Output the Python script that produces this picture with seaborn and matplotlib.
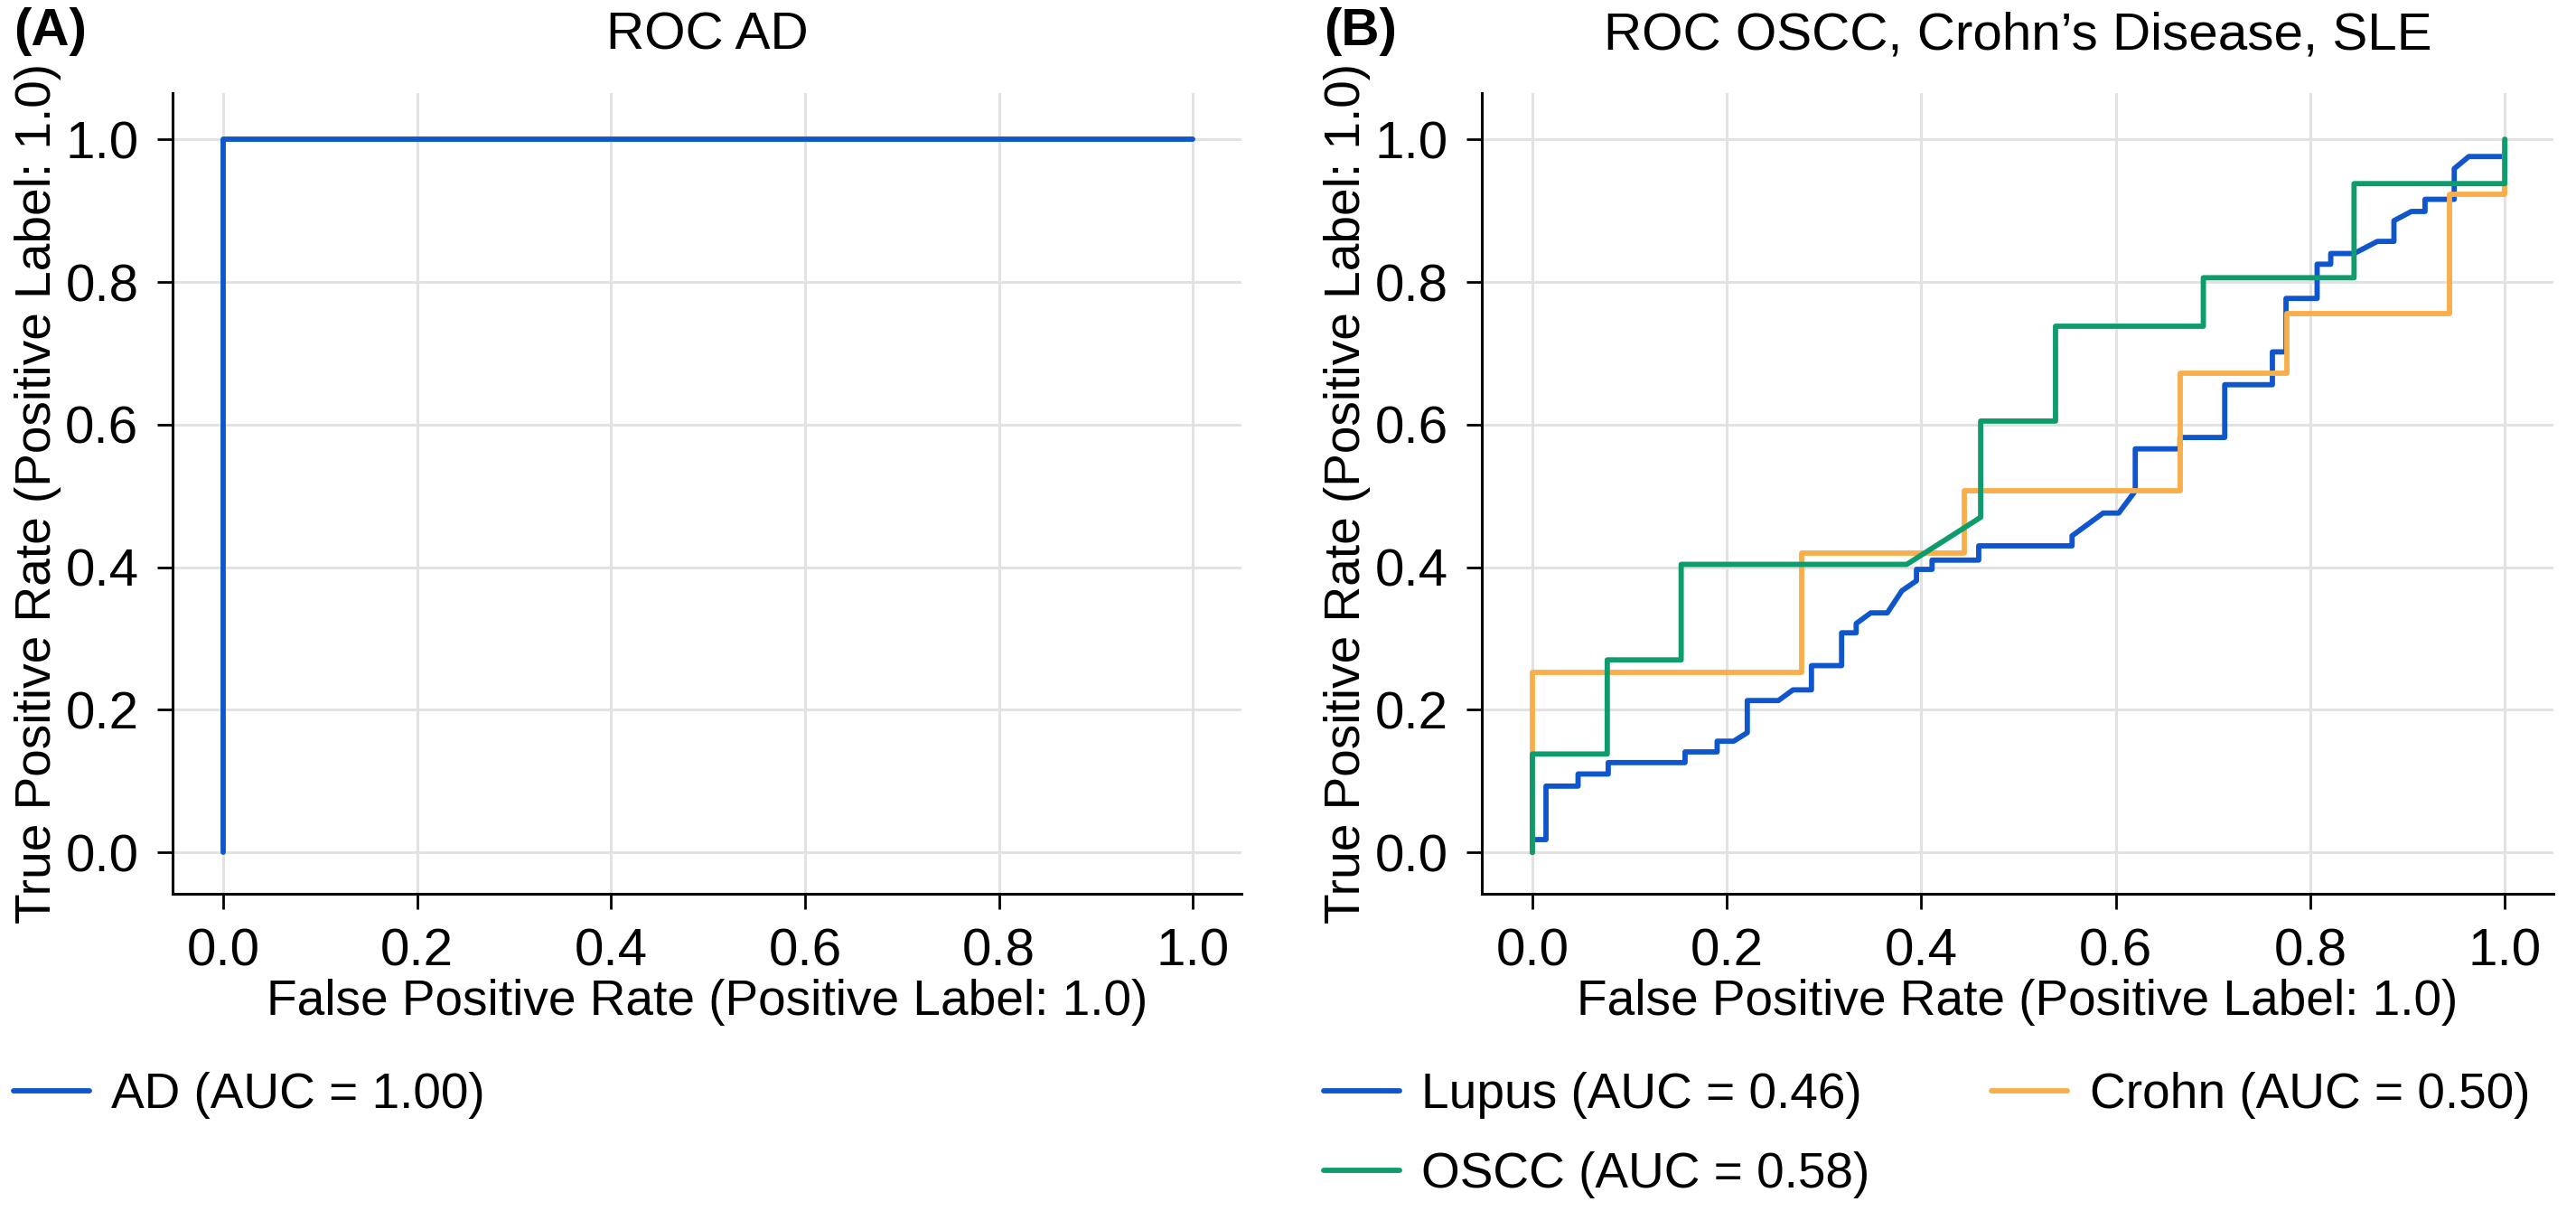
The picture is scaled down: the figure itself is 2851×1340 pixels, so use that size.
import pandas as pd
import numpy as np
import matplotlib
matplotlib.use('Agg')
import matplotlib.pyplot as plt
import seaborn as sns

# ROC curve vertices

ad_fpr = [0.0, 0.0, 1.0]
ad_tpr = [0.0, 1.0, 1.0]

lupus_fpr = [0.0, 0.0, 0.014, 0.014, 0.047, 0.047, 0.078, 0.078, 0.157, 0.157,
             0.19, 0.19, 0.207, 0.221, 0.221, 0.253, 0.268, 0.287, 0.287, 0.318,
             0.318, 0.333, 0.333, 0.348, 0.365, 0.380, 0.395, 0.395, 0.411, 0.411,
             0.459, 0.459, 0.555, 0.555, 0.587, 0.603, 0.620, 0.620, 0.666, 0.666,
             0.712, 0.712, 0.761, 0.761, 0.775, 0.775, 0.807, 0.807, 0.821, 0.821,
             0.845, 0.869, 0.886, 0.886, 0.904, 0.918, 0.918, 0.948, 0.948, 0.963,
             1.0, 1.0]
lupus_tpr = [0.0, 0.018, 0.018, 0.093, 0.093, 0.11, 0.11, 0.126, 0.126, 0.141,
             0.141, 0.156, 0.156, 0.168, 0.213, 0.213, 0.228, 0.228, 0.262, 0.262,
             0.308, 0.308, 0.321, 0.336, 0.336, 0.367, 0.381, 0.397, 0.397, 0.41,
             0.41, 0.43, 0.43, 0.444, 0.476, 0.476, 0.507, 0.566, 0.566, 0.582,
             0.582, 0.656, 0.656, 0.702, 0.702, 0.777, 0.777, 0.825, 0.825, 0.84,
             0.84, 0.857, 0.857, 0.886, 0.899, 0.899, 0.916, 0.916, 0.959, 0.976,
             0.976, 1.0]

crohn_fpr = [0.0, 0.0, 0.277, 0.277, 0.444, 0.444, 0.666, 0.666, 0.776, 0.776,
             0.943, 0.943, 1.0, 1.0]
crohn_tpr = [0.0, 0.252, 0.252, 0.42, 0.42, 0.507, 0.507, 0.672, 0.672, 0.756,
             0.756, 0.923, 0.923, 1.0]

oscc_fpr = [0.0, 0.0, 0.077, 0.077, 0.153, 0.153, 0.385, 0.461, 0.461, 0.538,
            0.538, 0.690, 0.690, 0.845, 0.845, 1.0, 1.0]
oscc_tpr = [0.0, 0.138, 0.138, 0.27, 0.27, 0.404, 0.404, 0.470, 0.605, 0.605,
            0.738, 0.738, 0.806, 0.806, 0.938, 0.938, 1.0]

labels_a = ['AD (AUC = 1.00)']
labels_b = ['Lupus (AUC = 0.46)', 'Crohn (AUC = 0.50)', 'OSCC (AUC = 0.58)']
blue, orange, green = '#0F55CC', '#F9AE4C', '#0E9B6D'

sns.set_style('ticks')
plt.rcParams['font.family'] = ['Liberation Sans', 'DejaVu Sans']
plt.rcParams['text.color'] = 'black'
plt.rcParams['axes.labelcolor'] = 'black'
plt.rcParams['xtick.color'] = 'black'
plt.rcParams['ytick.color'] = 'black'
fs = 21      # titles, ticks
fs_lab = 19.8  # axis labels, legends

fig = plt.figure(figsize=(14.255, 6.7), dpi=200)
W, H = 2851, 1340
top, bottom = 103, 989
ax_a = fig.add_axes([191 / W, 1 - bottom / H, (1374 - 191) / W, (bottom - top) / H])
ax_b = fig.add_axes([1640 / W, 1 - bottom / H, (2826 - 1640) / W, (bottom - top) / H])


def draw(ax, fpr, tpr, color, label):
    df = pd.DataFrame({'fpr': fpr, 'tpr': tpr})
    sns.lineplot(data=df, x='fpr', y='tpr', sort=False, estimator=None,
                 color=color, linewidth=2.1, label=label, ax=ax)


draw(ax_a, ad_fpr, ad_tpr, blue, labels_a[0])
draw(ax_b, lupus_fpr, lupus_tpr, blue, labels_b[0])
draw(ax_b, crohn_fpr, crohn_tpr, orange, labels_b[1])
draw(ax_b, oscc_fpr, oscc_tpr, green, labels_b[2])

for ax, title in [(ax_a, 'ROC AD'), (ax_b, 'ROC OSCC, Crohn\u2019s Disease, SLE')]:
    ax.set_xlim(-0.052, 1.05)
    ax.set_ylim(-0.058, 1.065)
    ax.set_xticks(np.arange(0, 1.01, 0.2))
    ax.set_yticks(np.arange(0, 1.01, 0.2))
    ax.grid(True, color='#E2E2E2', linewidth=1.1)
    ax.set_axisbelow(True)
    ax.tick_params(labelsize=fs, length=6, width=1.0, color='black', pad=7.5)
    for s in ['left', 'bottom']:
        ax.spines[s].set_color('black')
        ax.spines[s].set_linewidth(1.1)
    sns.despine(ax=ax)
    ax.set_title(title, fontsize=fs, pad=17.5)
    ax.set_xlabel('False Positive Rate (Positive Label: 1.0)', fontsize=fs_lab, labelpad=1)
    ax.set_ylabel('True Positive Rate (Positive Label: 1.0)', fontsize=fs_lab, labelpad=1.5)
    ax.get_legend().remove()

fig.text(15 / W, 1 - 35 / H, '(A)', fontsize=fs, fontweight='bold', va='center', ha='left')
fig.text(1465 / W, 1 - 35 / H, '(B)', fontsize=fs, fontweight='bold', va='center', ha='left')

h_a, l_a = ax_a.get_legend_handles_labels()
fig.legend(h_a, l_a, loc='upper left', bbox_to_anchor=(15 / W, 1 - 1186 / H),
           frameon=False, fontsize=fs_lab, handlelength=1.52, handletextpad=0.45,
           borderpad=0, borderaxespad=0)

h_b, l_b = ax_b.get_legend_handles_labels()
order = [0, 2, 1]
fig.legend([h_b[i] for i in order], [l_b[i] for i in order], loc='upper left',
           bbox_to_anchor=(1465 / W, 1 - 1186 / H), ncol=2, frameon=False,
           fontsize=fs_lab, handlelength=1.52, handletextpad=0.45, columnspacing=2.45,
           labelspacing=0.65, borderpad=0, borderaxespad=0)

plt.savefig('out.png', dpi=200)
